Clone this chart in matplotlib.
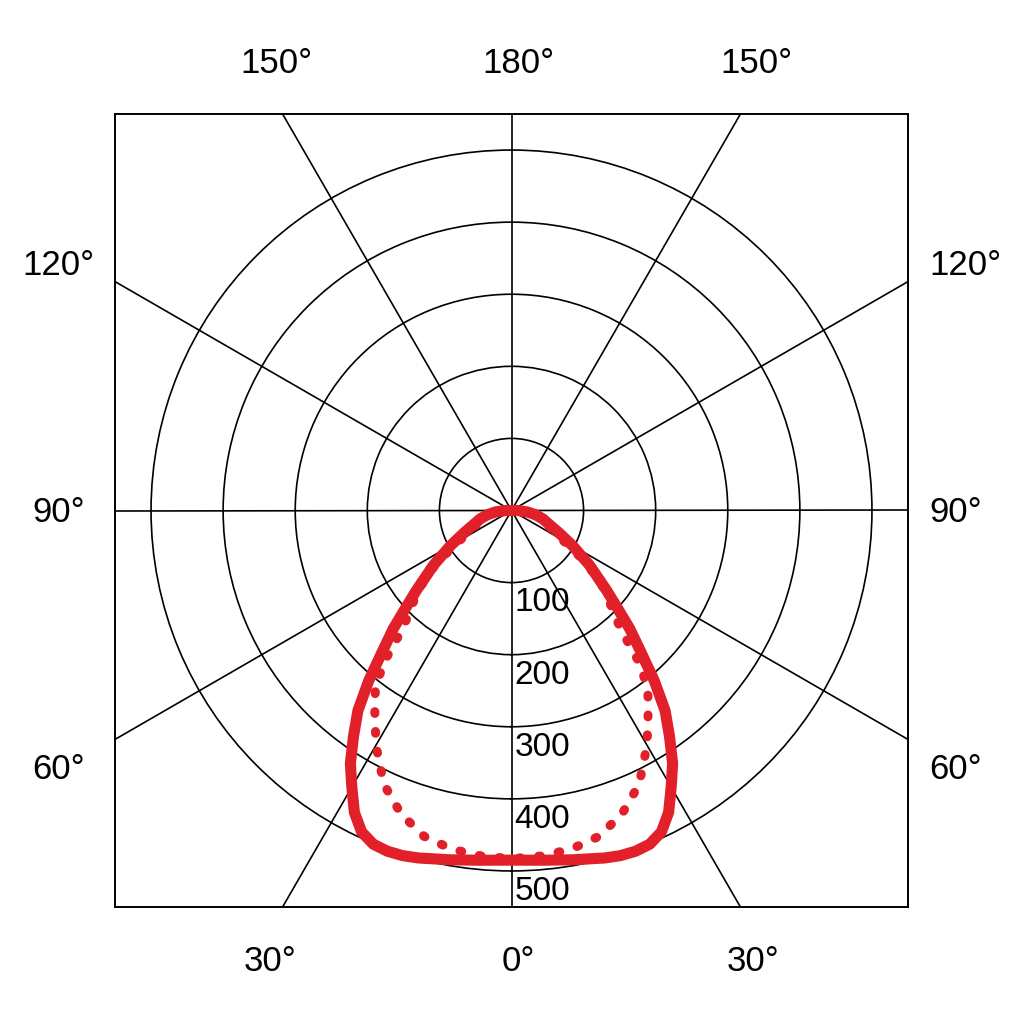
import numpy as np
import matplotlib.pyplot as plt

# photometric data (cd), symmetric planes
angles_c0 = [0, 5, 10, 12.5, 15, 17.5, 20, 22.5, 25, 27.5, 30, 32.5, 35, 37.5, 40, 42.5, 45,
             47.5, 50, 55, 60, 65, 70, 75, 80, 85, 90, 95, 180]
intensity_c0 = [485, 487, 492, 495, 499, 502, 503, 501, 492, 472, 443, 416, 382, 350, 308, 265, 232,
                198, 172, 132, 98, 72, 55, 45, 34, 22, 8, 0, 0]

angles_c90 = [0, 5, 10, 15, 20, 25, 30, 35, 37.5, 40, 42.5, 45, 47.5, 50, 55, 60,
              65, 70, 75, 80, 85, 90, 95, 180]
intensity_c90 = [483, 481, 477, 468, 448, 419, 376, 331, 310, 276, 226, 200, 183, 166, 127, 82,
                 62, 47, 38, 32, 24, 8, 0, 0]

ring_values = [100, 200, 300, 400, 500]
spoke_angles = [0, 30, 60, 90, 120, 150]

red = '#E2202A'
font = 'Liberation Sans'

fig = plt.figure(figsize=(10.24, 10.24), dpi=100)
pos = [115 / 1024, 117 / 1024, 793 / 1024, 793 / 1024]

# square frame with spokes
ax = fig.add_axes(pos)
ax.set_xlim(-550, 550)
ax.set_ylim(-550, 550)
ax.set_xticks([])
ax.set_yticks([])
for s in ax.spines.values():
    s.set_linewidth(1.4)
for a in spoke_angles:
    t = np.radians(a)
    ax.axline((0, 0), (np.sin(t), np.cos(t)), color='black', lw=1.2)

# polar overlay for rings and curves
axp = fig.add_axes(pos, projection='polar')
axp.set_facecolor('none')
axp.set_theta_zero_location('S')
axp.set_rlim(0, 550)
axp.set_rgrids(ring_values, labels=[])
axp.yaxis.grid(True, color='black', lw=1.2)
axp.xaxis.grid(False)
axp.set_xticks([])
axp.spines['polar'].set_visible(False)


def full_curve(angles, values):
    a = np.radians(angles)
    v = np.array(values)
    return np.concatenate([-a[::-1], a[1:]]), np.concatenate([v[::-1], v[1:]])


th90, r90 = full_curve(angles_c90, intensity_c90)
axp.plot(th90, r90, color=red, lw=6.5, linestyle=(0, (0.2, 2.0)),
         dash_capstyle='round')
th0, r0 = full_curve(angles_c0, intensity_c0)
axp.plot(th0, r0, color=red, lw=8, solid_joinstyle='round', solid_capstyle='round')

# inner intensity labels
for v in ring_values:
    ax.text(4, -(v + 40), str(v), fontsize=24, family=font, ha='left', va='baseline')

# outer angle labels
fs = 25
ax.text(-326, 607, '150°', fontsize=fs, family=font, ha='center', va='baseline')
ax.text(10, 607, '180°', fontsize=fs, family=font, ha='center', va='baseline')
ax.text(340, 607, '150°', fontsize=fs, family=font, ha='center', va='baseline')
ax.text(-335, -639, '30°', fontsize=fs, family=font, ha='center', va='baseline')
ax.text(10, -639, '0°', fontsize=fs, family=font, ha='center', va='baseline')
ax.text(335, -639, '30°', fontsize=fs, family=font, ha='center', va='baseline')

for y, lab in [(326, '120°'), (-16, '90°'), (-372, '60°')]:
    ax.text(-628, y, lab, fontsize=fs, family=font, ha='center', va='baseline')
    ax.text(579, y, lab, fontsize=fs, family=font, ha='left', va='baseline')

fig.savefig('out.png', dpi=100)
